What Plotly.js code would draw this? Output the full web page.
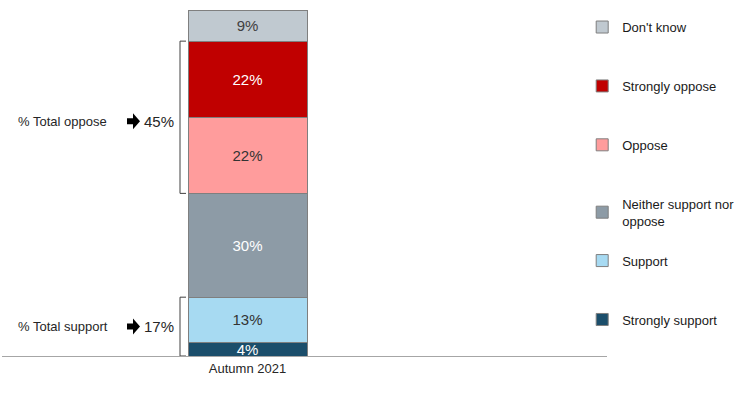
<!DOCTYPE html>
<html>
<head>
<meta charset="utf-8">
<script src="https://cdn.plot.ly/plotly-3.0.1.min.js"></script>
<style>
  html, body { margin: 0; padding: 0; background: #fff; }
  #chart { width: 753px; height: 395px; outline: 2px solid #000; outline-offset: -2px; }
</style>
</head>
<body>
<div id="chart"></div>
<script>
const categories = ['Autumn 2021'];
const seriesNames = ['Strongly support', 'Support', 'Neither support nor<br>oppose', 'Oppose', 'Strongly oppose', "Don't know"];
const seriesValues = [4, 13, 30, 22, 22, 9];
const seriesColors = ['#1b4e6b', '#a7daf2', '#8d9ba6', '#ff9c9c', '#c00000', '#c0c9d0'];
const textColors = ['#ffffff', '#333333', '#ffffff', '#333333', '#ffffff', '#404040'];
const legendIds = ['legend2', 'legend2', 'legend', 'legend', 'legend', 'legend'];
const groupLabels = ['% Total oppose', '% Total support'];
const groupValues = [45, 17];
const groupRanges = [[3, 4], [0, 1]]; // series index ranges covered by each group

const FONT = 'Liberation Sans, Arial, sans-serif';
const n = seriesNames.length;

const traces = seriesNames.map((name, i) => ({
  type: 'bar',
  name: name,
  x: categories,
  y: [seriesValues[i]],
  text: [seriesValues[i] + '%'],
  textposition: 'inside',
  insidetextanchor: 'middle',
  constraintext: 'none',
  textfont: { family: FONT, size: 15, color: textColors[i] },
  marker: { color: seriesColors[i], line: { color: '#7f7f7f', width: 1 } },
  width: 1,
  legend: legendIds[i],
  legendgroup: 'g' + i,
  legendrank: 1000 + (n - i),
  hoverinfo: 'skip'
}));

const cum = [0];
seriesValues.forEach(v => cum.push(cum[cum.length - 1] + v));

const pxToX = px => (px - 247.5) / 119;
const labelShift = [-4, 0];

const shapes = [];
const annotations = [];
groupLabels.forEach((lab, g) => {
  const lo = cum[groupRanges[g][0]];
  const hi = cum[groupRanges[g][1] + 1];
  const mid = (lo + hi) / 2;
  const xa = pxToX(180), xb = pxToX(186);
  const s = labelShift[g];
  shapes.push({
    type: 'path', xref: 'x', yref: 'y',
    path: `M ${xb} ${hi} L ${xa} ${hi} L ${xa} ${lo} L ${xb} ${lo}`,
    line: { color: '#404040', width: 1 }
  });
  shapes.push({
    type: 'path', xref: 'x', yref: 'y',
    xsizemode: 'pixel', ysizemode: 'pixel',
    xanchor: pxToX(133), yanchor: mid,
    path: `M -6 ${-3 + s} L 0 ${-3 + s} L 0 ${-8 + s} L 7 ${s} L 0 ${8 + s} L 0 ${3 + s} L -6 ${3 + s} Z`,
    fillcolor: '#000', line: { width: 0 }
  });
  annotations.push({
    xref: 'x', yref: 'y', x: pxToX(16), y: mid, xanchor: 'left', yanchor: 'middle', yshift: s,
    text: lab, showarrow: false, font: { family: FONT, size: 13, color: '#262626' }
  });
  annotations.push({
    xref: 'x', yref: 'y', x: pxToX(176), y: mid, xanchor: 'right', yanchor: 'middle', yshift: s,
    text: groupValues[g] + '%', showarrow: false, font: { family: FONT, size: 15, color: '#262626' }
  });
});

const legendBase = {
  xanchor: 'left', yanchor: 'top',
  traceorder: 'grouped', tracegroupgap: 39,
  font: { family: FONT, size: 13, color: '#1a1a1a' },
  bgcolor: 'rgba(0,0,0,0)', itemclick: false, itemdoubleclick: false
};

const layout = {
  width: 753, height: 395,
  margin: { l: 2, r: 146, t: 10, b: 39, pad: 0 },
  paper_bgcolor: '#ffffff', plot_bgcolor: '#ffffff',
  barmode: 'stack',
  showlegend: true,
  font: { family: FONT, size: 13, color: '#262626' },
  xaxis: {
    type: 'category', range: [-2.063, 3.021], fixedrange: true,
    showline: true, linecolor: '#a6a6a6', linewidth: 1,
    showgrid: false, zeroline: false, ticks: '',
    tickfont: { family: FONT, size: 13, color: '#262626' }
  },
  yaxis: { range: [0, 100], visible: false, fixedrange: true },
  legend: Object.assign({}, legendBase, { x: 0.959, y: 0.994 }),
  legend2: Object.assign({}, legendBase, { x: 0.959, y: 0.319 }),
  shapes: shapes,
  annotations: annotations,
  hovermode: false
};

Plotly.newPlot('chart', traces, layout, { displayModeBar: false, staticPlot: true });
</script>
</body>
</html>
